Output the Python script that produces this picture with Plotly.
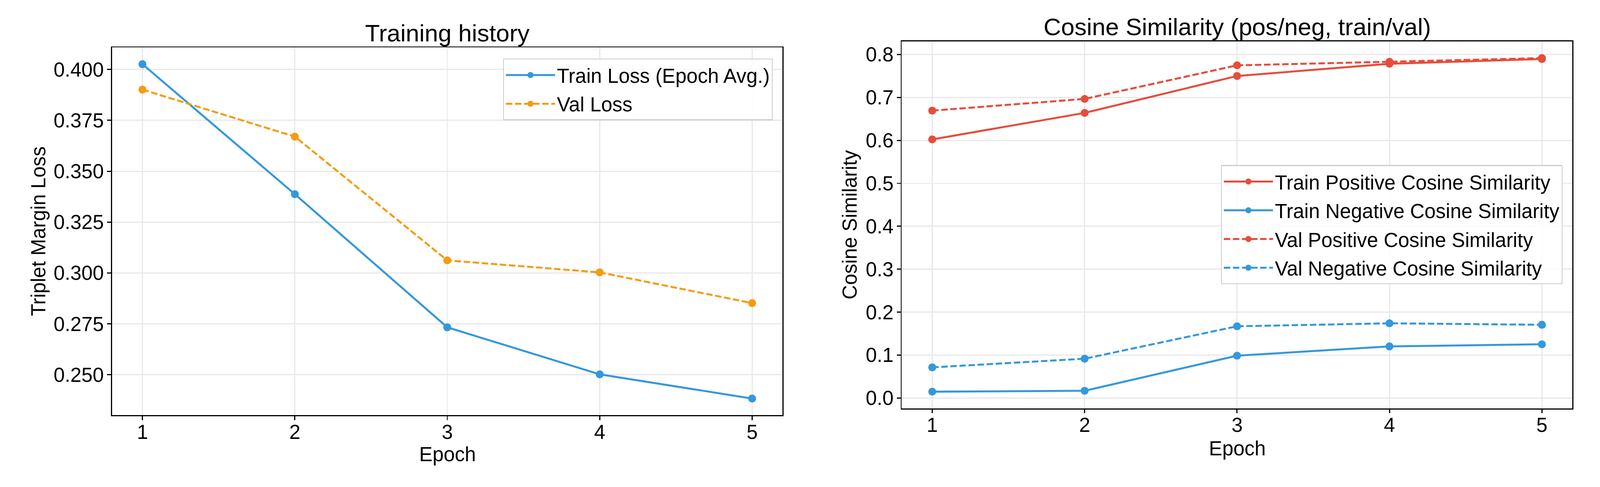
import plotly.graph_objects as go

# ---------------- data ----------------
epochs = [1, 2, 3, 4, 5]

train_loss = [0.4026, 0.3387, 0.2733, 0.2502, 0.2383]
val_loss = [0.3901, 0.3670, 0.3062, 0.3003, 0.2852]

train_pos_cos = [0.6023, 0.6640, 0.7500, 0.7785, 0.7895]
train_neg_cos = [0.0147, 0.0168, 0.0985, 0.1202, 0.1251]
val_pos_cos = [0.6693, 0.6966, 0.7748, 0.7830, 0.7916]
val_neg_cos = [0.0713, 0.0915, 0.1670, 0.1740, 0.1705]

loss_ticks = [0.250, 0.275, 0.300, 0.325, 0.350, 0.375, 0.400]
cos_ticks = [0.0, 0.1, 0.2, 0.3, 0.4, 0.5, 0.6, 0.7, 0.8]

# ---------------- style ----------------
BLUE = "#3498db"
ORANGE = "#f39c12"
RED = "#e74c3c"
FONT = "Liberation Sans"
W, H = 4230, 1246
TICK_FS = 53
TITLE_FS = 64
LW = 5.2
MS = 21
DASH = "17px,7px"


def padded(values, frac=0.05):
    lo, hi = min(values), max(values)
    d = (hi - lo) * frac
    return [lo - d, hi + d]


fig = go.Figure()

def add_line(x, y, name, color, dash, xa, ya, legend, group):
    fig.add_trace(go.Scatter(
        x=x, y=y, name=name, mode="lines+markers",
        line=dict(color=color, width=LW, dash=dash),
        marker=dict(color=color, size=MS, line=dict(width=0)),
        xaxis=xa, yaxis=ya, legend=legend, legendgroup=group,
    ))

add_line(epochs, train_loss, "Train Loss (Epoch Avg.)", BLUE, "solid", "x", "y", "legend", "a1")
add_line(epochs, val_loss, "Val Loss", ORANGE, DASH, "x", "y", "legend", "a2")

add_line(epochs, train_pos_cos, "Train Positive Cosine Similarity", RED, "solid", "x2", "y2", "legend2", "b1")
add_line(epochs, train_neg_cos, "Train Negative Cosine Similarity", BLUE, "solid", "x2", "y2", "legend2", "b2")
add_line(epochs, val_pos_cos, "Val Positive Cosine Similarity", RED, DASH, "x2", "y2", "legend2", "b3")
add_line(epochs, val_neg_cos, "Val Negative Cosine Similarity", BLUE, DASH, "x2", "y2", "legend2", "b4")

axis_common = dict(
    showline=True, linecolor="black", linewidth=3, mirror=True,
    ticks="outside", ticklen=10, tickwidth=3, tickcolor="black",
    showgrid=True, gridcolor="#e8e8e8", gridwidth=2.5,
    zeroline=False,
    tickfont=dict(family=FONT, size=TICK_FS, color="black"),
)
xaxis_common = dict(axis_common, ticklabelstandoff=-14)
yaxis_common = dict(axis_common, ticklabelstandoff=-2)

x_range = padded(epochs)
legend_common = dict(
    font=dict(family=FONT, size=TICK_FS, color="black"),
    bgcolor="rgba(255,255,255,0.85)", bordercolor="#cccccc", borderwidth=2.5,
    xanchor="right", yanchor="top", traceorder="grouped",
    tracegroupgap=4, itemwidth=130,
)

fig.update_layout(
    width=W, height=H,
    margin=dict(l=0, r=0, t=0, b=0),
    paper_bgcolor="white", plot_bgcolor="white",
    font=dict(family=FONT, color="black"),
    xaxis=dict(domain=[296 / W, 2069 / W], range=x_range, tickvals=epochs,
               anchor="y", **xaxis_common),
    yaxis=dict(domain=[1 - 1099 / H, 1 - 125.6 / H], range=padded(train_loss + val_loss),
               tickvals=loss_ticks, tickformat=".3f", anchor="x", **yaxis_common),
    xaxis2=dict(domain=[2384 / W, 4157 / W], range=x_range, tickvals=epochs,
                anchor="y2", **xaxis_common),
    yaxis2=dict(domain=[1 - 1080.7 / H, 1 - 109.7 / H],
                range=padded(train_pos_cos + train_neg_cos + val_pos_cos + val_neg_cos),
                tickvals=cos_ticks, tickformat=".1f", anchor="x2", **yaxis_common),
    legend=dict(x=2043 / W, y=1 - 155 / H, **legend_common),
    legend2=dict(x=4131 / W, y=1 - 437 / H, **legend_common),
    showlegend=True,
)

def text(x, y, s, size, angle=0):
    fig.add_annotation(x=x, y=y, xref="paper", yref="paper", text=s, showarrow=False,
                       xanchor="center", yanchor="middle", textangle=angle,
                       font=dict(family=FONT, size=size, color="black"))

text(1182.5 / W, 1 - 87.4 / H, "Training history", TITLE_FS)
text(3270.5 / W, 1 - 71.5 / H, "Cosine Similarity (pos/neg, train/val)", TITLE_FS)
text(1182.5 / W, 1 - 1202 / H, "Epoch", TICK_FS)
text(3270.5 / W, 1 - 1186 / H, "Epoch", TICK_FS)
text(101 / W, 1 - 612.3 / H, "Triplet Margin Loss", TICK_FS, -90)
text(2246 / W, 1 - 595.2 / H, "Cosine Similarity", TICK_FS, -90)

# fit the fixed-size figure exactly into the browser viewport
post = """
var gd = document.getElementById('{plot_id}');
document.documentElement.style.margin = '0';
document.body.style.margin = '0';
document.body.style.overflow = 'hidden';
var s = Math.min(window.innerWidth / %d, window.innerHeight / %d);
gd.style.transformOrigin = '0 0';
gd.style.transform = 'scale(' + s + ')';
""" % (W, H)

fig.write_html("out.html", post_script=post, config={"displayModeBar": False})
